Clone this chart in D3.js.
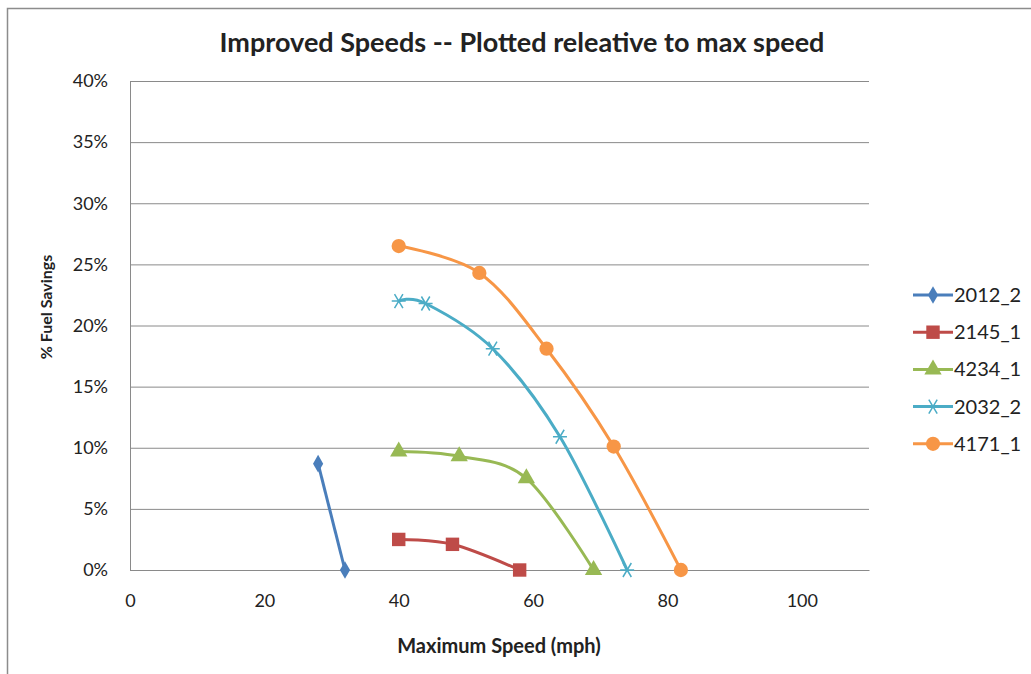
<!DOCTYPE html>
<html>
<head>
<meta charset="utf-8">
<script src="https://cdn.jsdelivr.net/npm/d3@7"></script>
<style>
  body { margin: 0; background: #fff; }
  text { font-family: Lato, "Open Sans", sans-serif; fill: #222; }
</style>
</head>
<body>
<svg width="1031" height="674"></svg>
<script>
// data
var names = ["2012_2", "2145_1", "4234_1", "2032_2", "4171_1"];
var colors = ["#4A7EBB", "#BE4B48", "#98B954", "#4BACC6", "#F79646"];
var symbols = ["diamond", "square", "triangle", "star", "circle"];
var speeds = [
  [28, 32],
  [40, 48, 58],
  [40, 49, 59, 69],
  [40, 44, 54, 64, 74],
  [40, 52, 62, 72, 82]
];
var savings = [
  [0.087, 0],
  [0.025, 0.021, 0],
  [0.097, 0.093, 0.075, 0],
  [0.220, 0.218, 0.181, 0.109, 0],
  [0.265, 0.243, 0.181, 0.101, 0]
];
var xTicks = [0, 20, 40, 60, 80, 100];
var yTicks = [0, 0.05, 0.1, 0.15, 0.2, 0.25, 0.3, 0.35, 0.4];

var svg = d3.select("svg");
var margin = {top: 81, left: 130},
  width = 739,
  height = 489;

// chart frame
svg.append("path")
  .attr("d", "M7.5,674 V8.5 H1031")
  .attr("fill", "none")
  .attr("stroke", "#8c8c8c")
  .attr("stroke-width", 1.5);

var x = d3.scaleLinear().domain([0, 110]).range([0, width]);
var y = d3.scaleLinear().domain([0, 0.4]).range([height, 0]);

var g = svg.append("g")
  .attr("transform", "translate(" + margin.left + "," + margin.top + ")");

// gridlines
g.append("g")
  .call(d3.axisLeft(y).tickValues(yTicks).tickSize(-width).tickFormat(""))
  .call(function(a) { a.select(".domain").remove(); })
  .selectAll("line").attr("stroke", "#8a8a8a");

// y axis
var ya = g.append("g")
  .call(d3.axisLeft(y).tickValues(yTicks).tickSize(0).tickPadding(22).tickFormat(d3.format(".0%")));
ya.select(".domain").attr("stroke", "#8a8a8a");
ya.selectAll("text").style("font-size", "18px").attr("fill", "#222");

// x axis
var xa = g.append("g")
  .attr("transform", "translate(0," + height + ")")
  .call(d3.axisBottom(x).tickValues(xTicks).tickSize(0).tickPadding(24));
xa.select(".domain").attr("stroke", "#8a8a8a");
xa.selectAll("text").style("font-size", "18px").attr("fill", "#222");

// titles
svg.append("text")
  .attr("x", 522).attr("y", 52)
  .attr("text-anchor", "middle")
  .style("font-size", "27px").style("font-weight", "bold")
  .text("Improved Speeds -- Plotted releative to max speed");

svg.append("text")
  .attr("x", 499).attr("y", 653)
  .attr("text-anchor", "middle")
  .style("font-size", "20px").style("font-weight", "bold")
  .text("Maximum Speed (mph)");

svg.append("text")
  .attr("transform", "translate(52,307) rotate(-90)")
  .attr("text-anchor", "middle")
  .style("font-size", "16px").style("font-weight", "bold")
  .text("% Fuel Savings");

var line = d3.line()
  .x(function(d) { return x(d[0]); })
  .y(function(d) { return y(d[1]); })
  .curve(d3.curveCatmullRom.alpha(0));

function drawMarker(sel, type, color) {
  if (type == "star") {
    var s = 7;
    sel.append("path")
      .attr("d", "M" + (-s) + ",0H" + s + "M" + (-s * 0.6) + "," + (-s) + "L" + (s * 0.6) + "," + s +
        "M" + (s * 0.6) + "," + (-s) + "L" + (-s * 0.6) + "," + s)
      .attr("stroke", color).attr("stroke-width", 1.5).attr("fill", "none");
  } else {
    var sym = {diamond: d3.symbolDiamond, square: d3.symbolSquare, triangle: d3.symbolTriangle, circle: d3.symbolCircle}[type];
    var size = {diamond: 90, square: 180, triangle: 130, circle: 160}[type];
    sel.append("path")
      .attr("d", d3.symbol().type(sym).size(size)())
      .attr("fill", color);
  }
}

names.forEach(function(name, i) {
  var pts = speeds[i].map(function(s, j) { return [s, savings[i][j]]; });
  g.append("path")
    .datum(pts)
    .attr("d", line)
    .attr("fill", "none")
    .attr("stroke", colors[i])
    .attr("stroke-width", 3);
  pts.forEach(function(p) {
    var m = g.append("g").attr("transform", "translate(" + x(p[0]) + "," + y(p[1]) + ")");
    drawMarker(m, symbols[i], colors[i]);
  });
});

// legend
var legend = svg.append("g").attr("transform", "translate(913,295)");
names.forEach(function(name, i) {
  var row = legend.append("g").attr("transform", "translate(0," + (i * 37.2) + ")");
  row.append("line")
    .attr("x1", 0).attr("x2", 40)
    .attr("stroke", colors[i]).attr("stroke-width", 3);
  var m = row.append("g").attr("transform", "translate(20,0)");
  drawMarker(m, symbols[i], colors[i]);
  row.append("text")
    .attr("x", 41).attr("dy", "0.35em")
    .style("font-size", "20px")
    .text(name);
});
</script>
</body>
</html>
